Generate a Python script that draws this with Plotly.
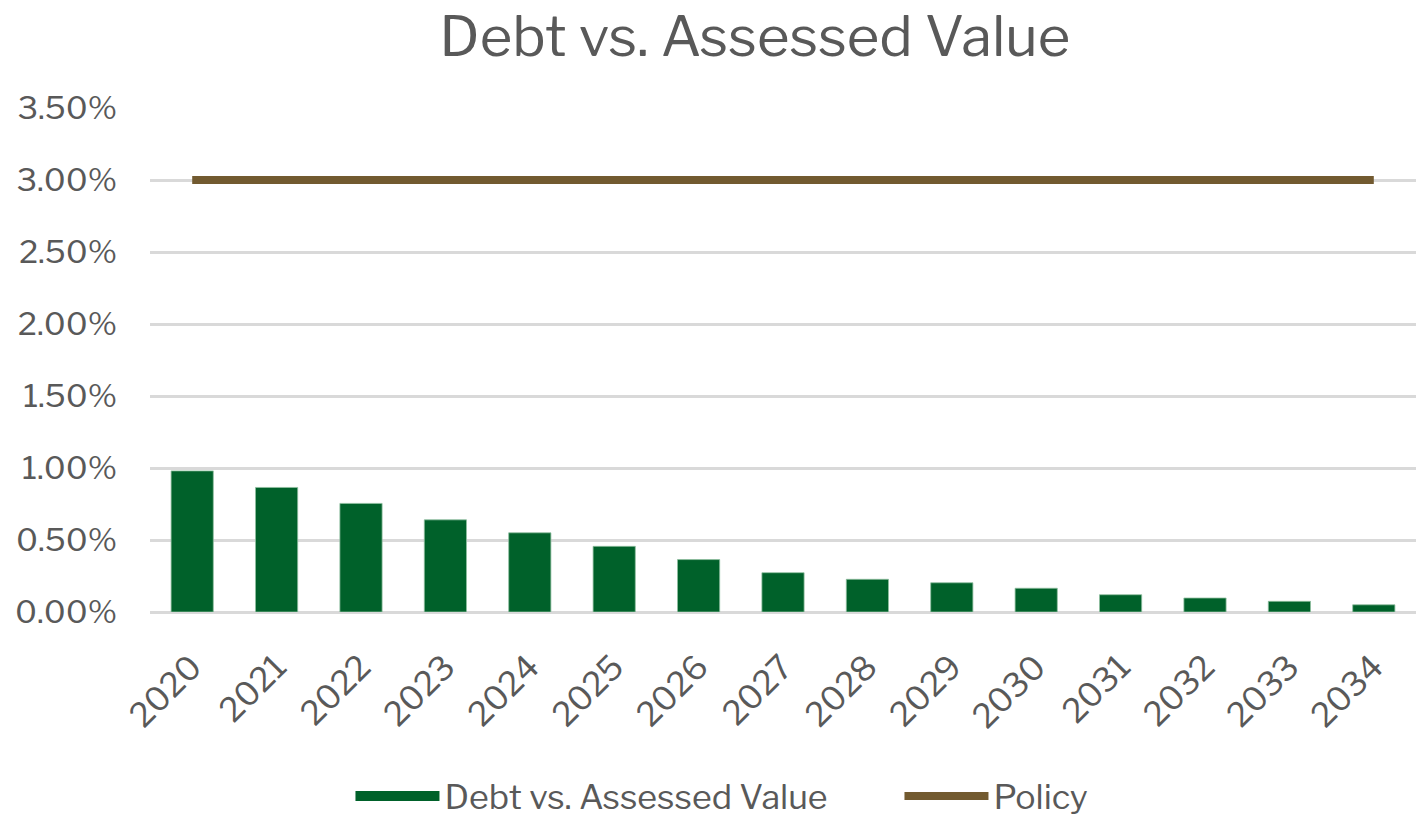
import plotly.graph_objects as go

years = [str(y) for y in range(2020, 2035)]
debt_vs_av = [0.98, 0.865, 0.754, 0.64, 0.55, 0.456, 0.364, 0.273, 0.227, 0.203,
              0.165, 0.12, 0.097, 0.074, 0.05]
policy = [3.0] * 15
y_ticks = [0, 0.5, 1.0, 1.5, 2.0, 2.5, 3.0, 3.5]
y_tick_text = [f"{v:.2f}%" for v in y_ticks]

font_family = "Libre Franklin, Roboto, Noto Sans, sans-serif"
grey = "#595959"
green = "#00612A"
brown = "#725A30"

fig = go.Figure()
fig.add_trace(go.Bar(
    x=years, y=debt_vs_av, name="Debt vs. Assessed Value",
    marker=dict(color=green, line=dict(color="#8fbf9f", width=0.8)),
    showlegend=False, legendgroup="debt",
))
# legend-only entry so the legend key is a wide block like the original
fig.add_trace(go.Scatter(
    x=[None], y=[None], name="Debt vs. Assessed Value", mode="lines",
    line=dict(color=green, width=20), legendgroup="debt",
))
fig.add_trace(go.Scatter(
    x=years, y=policy, name="Policy", mode="lines",
    line=dict(color=brown, width=8),
))

fig.update_layout(
    width=1416, height=819,
    paper_bgcolor="white", plot_bgcolor="white",
    margin=dict(l=150, r=0, t=108, b=207, autoexpand=False),
    title=dict(text="Debt vs. Assessed Value", x=0.533, xanchor="center",
               y=0.956, yanchor="middle",
               font=dict(family=font_family, size=56, color=grey)),
    bargap=0.5,
    font=dict(family=font_family, color=grey, size=32),
    legend=dict(orientation="h", x=0.592, xanchor="center", y=-0.366, yanchor="middle",
                font=dict(size=34, color=grey), itemwidth=84,
                entrywidth=450, entrywidthmode="pixels"),
    showlegend=True,
)
fig.update_xaxes(tickangle=-45, tickfont=dict(size=33, color=grey), showgrid=False,
                 showline=False, ticks="", ticklabelstandoff=28, automargin=False)
fig.update_yaxes(range=[0, 3.5], tickvals=y_ticks, ticktext=y_tick_text,
                 tickfont=dict(size=32, color=grey), showgrid=True,
                 gridcolor="#d9d9d9", gridwidth=2.5, zeroline=True,
                 zerolinecolor="#d9d9d9", zerolinewidth=2.5, ticks="",
                 ticklabelstandoff=32, automargin=False)

fig.write_html("out.html", config={"displayModeBar": False},
               post_script="document.body.style.margin='0';")
